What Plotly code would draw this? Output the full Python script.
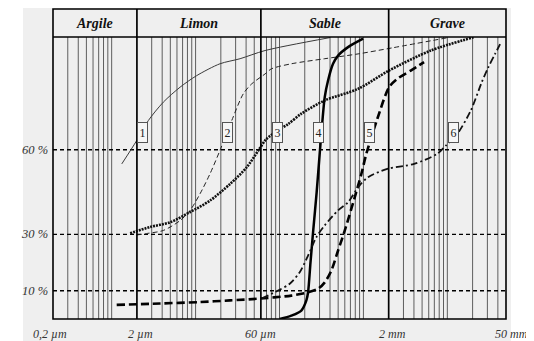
import numpy as np
import plotly.graph_objects as go

# ---------------- data ----------------
classes = ["Argile", "Limon", "Sable", "Grave"]
class_bounds_mm = [0.0002, 0.002, 0.06, 2, 50]
size_labels = ["0,2 µm", "2 µm", "60 µm", "2 mm", "50 mm"]
size_ticks_mm = [0.0002, 0.002, 0.06, 2, 50]
pct_labels = ["60 %", "30 %", "10 %"]
pct_ticks = [60, 30, 10]

# cumulative passing curves: grain size (mm) vs percent
c1_x = [0.00132, 0.00199, 0.00274, 0.00413, 0.00653, 0.0103, 0.0195, 0.0339, 0.0673, 0.401]
c1_y = [55.0, 63.3, 70.4, 76.9, 82.2, 86.3, 90.5, 92.3, 95.2, 99.8]

c2_x = [0.00199, 0.0026, 0.00413, 0.00653, 0.00859, 0.0113, 0.01486, 0.01954, 0.0270, 0.0371,
        0.0467, 0.0673, 0.0800, 0.1384, 0.346, 0.863, 2.25, 9.84]
c2_y = [29.8, 30.3, 31.4, 34.9, 38.5, 44.4, 51.5, 59.8, 70.4, 79.9,
        83.4, 86.9, 88.7, 90.5, 92.3, 94.0, 96.2, 99.7]

c3_x = [0.00166, 0.00286, 0.00497, 0.00859, 0.01486, 0.0258, 0.0407, 0.0561, 0.0692, 0.0935,
        0.1265, 0.182, 0.346, 0.863, 2.02, 6.35, 20.5]
c3_y = [30.4, 32.6, 34.3, 37.9, 42.0, 47.9, 53.8, 59.8, 63.7, 66.7,
        69.1, 72.8, 77.5, 81.6, 88.1, 95.2, 99.9]

c4_x = [0.1007, 0.1384, 0.182, 0.209, 0.219, 0.234, 0.2523, 0.2773, 0.3034, 0.3155,
        0.346, 0.379, 0.4345, 0.499, 0.656, 0.991]
c4_y = [0.0, 1.2, 3.0, 6.6, 9.5, 20.0, 31.4, 45.0, 59.8, 65.8,
        78.7, 84.6, 90.5, 93.4, 96.4, 99.4]

c5_x = [0.001148, 0.00377, 0.0113, 0.0258, 0.0555, 0.1384, 0.219, 0.2877, 0.346, 0.415,
        0.499, 0.600, 0.789, 0.946, 1.084, 1.466, 2.023, 2.541, 3.664, 5.28]
c5_y = [5.0, 5.5, 6.0, 6.6, 7.2, 8.3, 9.5, 10.7, 13.0, 17.2,
        24.3, 31.4, 43.2, 51.5, 58.6, 71.0, 82.2, 85.2, 88.1, 91.1]

c6_x = [0.0619, 0.0962, 0.1324, 0.1742, 0.219, 0.275, 0.346, 0.499, 0.656, 0.863,
        1.135, 1.968, 4.018, 7.60, 9.59, 13.18, 19.01, 25.76, 30.83, 37.07, 43.75]
c6_y = [7.3, 10.1, 12.5, 16.6, 22.5, 29.0, 33.2, 38.5, 41.4, 46.7,
        50.3, 53.3, 55.0, 58.6, 61.5, 65.7, 73.9, 84.0, 89.3, 94.0, 98.2]

curve_labels = ["1", "2", "3", "4", "5", "6"]
label_x_mm = [0.002333, 0.0237, 0.0935, 0.290, 1.183, 11.72]
label_y = [66.3, 66.3, 66.3, 66.3, 66.3, 66.3]

# ---------------- figure ----------------
OFF = 8                      # page body margin
W, H = 534 - OFF, 341 - OFF
ML, MR, MT, MB = 53 - OFF, 28, 37 - OFF, 22
PW, PH = W - ML - MR, H - MT - MB
def px_x(px):                # page pixel -> paper
    return (px - OFF - ML) / PW
def px_y(py):
    return (H + OFF - MB - py) / PH

HEAD_TOP = px_y(9)
BG = "#efefef"

fig = go.Figure()

curves = [
    (c1_x, c1_y, dict(color="#3a3a3a", width=1.0)),
    (c2_x, c2_y, dict(color="#222222", width=1.0, dash="5px,3px")),
    (c3_x, c3_y, dict(color="#111111", width=2.6, dash="2px,1px")),
    (c4_x, c4_y, dict(color="#000000", width=2.5)),
    (c5_x, c5_y, dict(color="#000000", width=2.6, dash="8px,4px")),
    (c6_x, c6_y, dict(color="#111111", width=1.8, dash="7px,3px,2px,3px")),
]
for xs, ys, ln in curves:
    fig.add_trace(go.Scatter(x=xs, y=ys, mode="lines",
                             line=dict(shape="spline", smoothing=0.8, **ln),
                             hoverinfo="skip", showlegend=False))

shapes = []
# grey panel
shapes.append(dict(type="rect", xref="paper", yref="paper",
                   x0=px_x(23), x1=px_x(511), y0=px_y(345), y1=px_y(7),
                   fillcolor=BG, line=dict(width=0), layer="below"))
# log grid lines
for k in range(-4, 2):
    for m in range(1, 10):
        v = m * 10.0 ** k
        if v <= class_bounds_mm[0] * 1.0001 or v >= class_bounds_mm[-1] * 0.9999:
            continue
        if any(np.isclose(v, b) for b in class_bounds_mm):
            continue
        shapes.append(dict(type="line", xref="x", yref="paper", x0=v, x1=v, y0=0, y1=1,
                           line=dict(color="#5e5e5e", width=1), layer="below"))
# horizontal dashed percent lines
for p in pct_ticks:
    shapes.append(dict(type="line", xref="paper", yref="y", x0=0, x1=1, y0=p, y1=p,
                       line=dict(color="#000000", width=1.4, dash="4px,3px"), layer="below"))
# class dividers
for b in class_bounds_mm[1:-1]:
    shapes.append(dict(type="line", xref="x", yref="paper", x0=b, x1=b, y0=0, y1=HEAD_TOP,
                       line=dict(color="#000000", width=1.7)))
# header bottom line and frame
shapes.append(dict(type="line", xref="paper", yref="paper", x0=0, x1=1, y0=1, y1=1,
                   line=dict(color="#000000", width=1.3)))
shapes.append(dict(type="rect", xref="paper", yref="paper", x0=0, x1=1, y0=0, y1=HEAD_TOP,
                   line=dict(color="#000000", width=1.6)))

ann = []
serif = "Liberation Serif, Times New Roman, serif"
# class names in header
for i, name in enumerate(classes):
    xm = (np.log10(class_bounds_mm[i]) + np.log10(class_bounds_mm[i + 1])) / 2
    ann.append(dict(x=xm, y=(1 + HEAD_TOP) / 2, xref="x", yref="paper", text=name,
                    showarrow=False, xanchor="center", yanchor="middle",
                    font=dict(family=serif, size=14, color="#111111",
                              weight="bold", style="italic")))
# size tick labels
shifts = [-3, 4, 0, 4, 5]
for t, lab, s in zip(size_ticks_mm, size_labels, shifts):
    ann.append(dict(x=np.log10(t), y=0, xref="x", yref="paper", text=lab,
                    showarrow=False, xanchor="center", yanchor="middle",
                    xshift=s, yshift=-15,
                    font=dict(family=serif, size=12, color="#333333", style="italic")))
# percent labels
for p, lab in zip(pct_ticks, pct_labels):
    ann.append(dict(x=0, y=p, xref="paper", yref="y", text=lab, showarrow=False,
                    xanchor="right", yanchor="middle", xshift=-3,
                    font=dict(family=serif, size=12.5, color="#333333", style="italic")))
# curve number boxes
for lab, lx, ly in zip(curve_labels, label_x_mm, label_y):
    ann.append(dict(x=np.log10(lx), y=ly, xref="x", yref="y", text=lab, showarrow=False,
                    xanchor="center", yanchor="middle", width=7, height=17,
                    bgcolor="#f6f6f6", bordercolor="#555555", borderwidth=1, borderpad=1,
                    font=dict(family=serif, size=12, color="#222222")))

fig.update_layout(
    width=W, height=H, autosize=False,
    margin=dict(l=ML, r=MR, t=MT, b=MB, pad=0),
    paper_bgcolor="#ffffff", plot_bgcolor=BG,
    xaxis=dict(type="log", range=[np.log10(class_bounds_mm[0]), np.log10(class_bounds_mm[-1])],
               visible=False, fixedrange=True),
    yaxis=dict(range=[0, 100], visible=False, fixedrange=True),
    shapes=shapes, annotations=ann, showlegend=False,
)

fig.write_html("out.html", config={"displayModeBar": False})
